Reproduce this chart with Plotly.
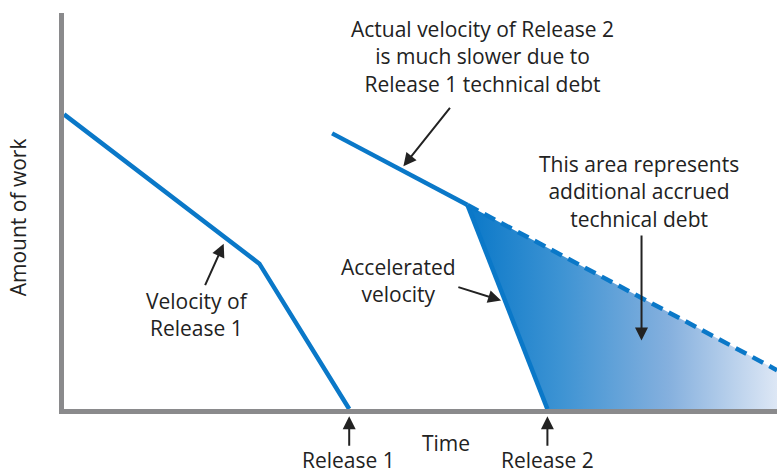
import plotly.graph_objects as go

# time runs 0..100 along the x axis, amount of work 0..100 up the y axis
release1_time = [0, 27.4, 40]
release1_work = [74.4, 36.7, 0]

release2_time = [37.6, 56.6]
release2_work = [69.6, 51.5]

accel_time = [56.6, 67.8]
accel_work = [51.5, 0]

projected_time = [56.6, 100]
projected_work = [51.5, 9.8]

debt_time = [56.6, 100, 100, 67.8, 56.6]
debt_work = [51.5, 9.8, 0, 0, 51.5]

BLUE = '#0a78c8'
GRAY = '#8a8a8c'
INK = '#222222'
FONT = 'Open Sans'

fig = go.Figure()

# shaded technical debt area
fig.add_trace(go.Scatter(x=debt_time, y=debt_work, mode='lines', fill='toself',
                         line=dict(width=0),
                         fillgradient=dict(type='horizontal',
                                           colorscale=[[0, '#0a78c8'], [0.3, '#3d93d3'],
                                                       [0.65, '#85b0de'], [1, '#dde7f5']]),
                         hoverinfo='skip'))

fig.add_trace(go.Scatter(x=release1_time, y=release1_work, mode='lines',
                         line=dict(color=BLUE, width=4.5)))
fig.add_trace(go.Scatter(x=release2_time, y=release2_work, mode='lines',
                         line=dict(color=BLUE, width=4.5)))
fig.add_trace(go.Scatter(x=accel_time, y=accel_work, mode='lines',
                         line=dict(color=BLUE, width=4.5)))
fig.add_trace(go.Scatter(x=projected_time, y=projected_work, mode='lines',
                         line=dict(color=BLUE, width=4.5, dash='12px,7px')))

txt = dict(family=FONT, size=21, color=INK)

# text labels inside the plot (data coords)
labels = [
    (18.7, 23.9, 'Velocity of<br>Release 1'),
    (58.7, 88.9, 'Actual velocity of Release 2<br>is much slower due to<br>Release 1 technical debt'),
    (46.9, 32.4, 'Accelerated<br>velocity'),
    (80.6, 55.0, 'This area represents<br>additional accrued<br>technical debt'),
]
for lx, ly, lt in labels:
    fig.add_annotation(x=lx, y=ly, text=lt, showarrow=False, font=txt,
                       xanchor='center', yanchor='middle', align='center')

# labels below the time axis (paper y)
below = [
    (53.6, -0.085, 'Time'),
    (39.9, -0.128, 'Release 1'),
    (67.8, -0.128, 'Release 2'),
]
for lx, ly, lt in below:
    fig.add_annotation(x=lx, yref='paper', y=ly, text=lt, showarrow=False, font=txt,
                       xanchor='center', yanchor='middle')

fig.add_annotation(xref='paper', x=-0.064, y=48.5, text='Amount of work', showarrow=False,
                   font=txt, textangle=-90, xanchor='center', yanchor='middle')

# arrows (head x,y ; tail ax,ay)
arrows = [
    (22.4, 41.7, 19.7, 30.9),
    (47.6, 61.3, 54.3, 76.4),
    (61.3, 27.4, 55.1, 30.9),
    (81.0, 17.3, 81.0, 44.2),
]
for hx, hy, tx, ty in arrows:
    fig.add_annotation(x=hx, y=hy, ax=tx, ay=ty, axref='x', ayref='y', text='',
                       showarrow=True, arrowhead=2, arrowsize=1.3, arrowwidth=2,
                       arrowcolor=INK)

# release markers under the axis
for rx in [40, 67.8]:
    fig.add_annotation(x=rx, yref='paper', y=-0.018, ax=0, ay=31, text='',
                       showarrow=True, arrowhead=2, arrowsize=1.3, arrowwidth=2,
                       arrowcolor=INK)

fig.update_layout(
    width=777, height=473,
    margin=dict(l=64, r=0, t=13, b=64),
    paper_bgcolor='white', plot_bgcolor='white',
    showlegend=False,
    xaxis=dict(range=[0, 100], showline=True, linecolor=GRAY, linewidth=5,
               showgrid=False, zeroline=False, showticklabels=False, ticks=''),
    yaxis=dict(range=[0, 100], showline=True, linecolor=GRAY, linewidth=5,
               showgrid=False, zeroline=False, showticklabels=False, ticks=''),
)

fig.write_html("out.html", config={'displayModeBar': False},
               post_script="document.body.style.margin='0';")
